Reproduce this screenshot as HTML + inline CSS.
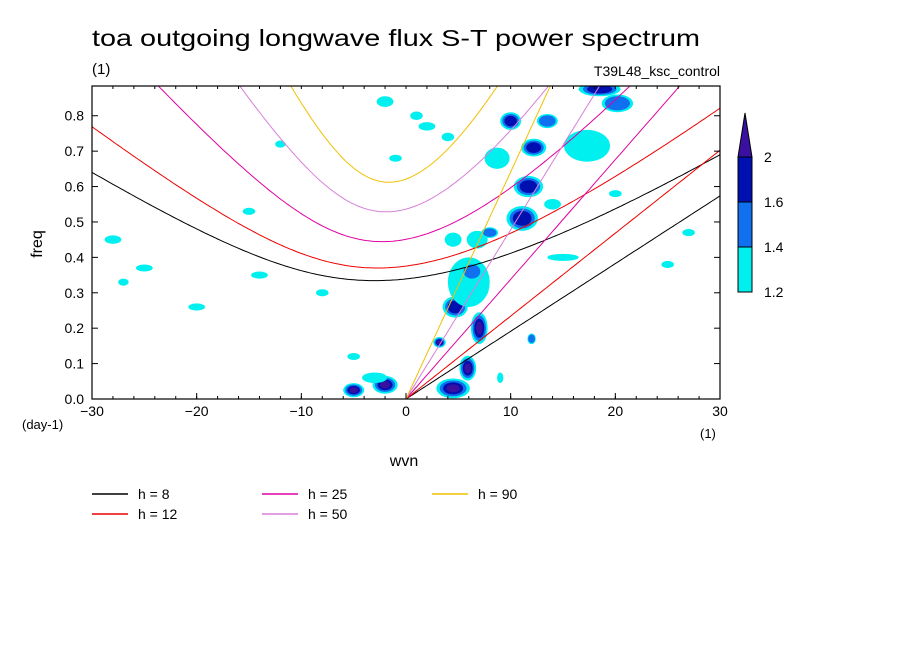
<!DOCTYPE html>
<html><head><meta charset="utf-8"><style>
body{margin:0;background:#fff;}
svg text{font-family:"Liberation Sans","DejaVu Sans",sans-serif;}
</style></head><body>
<svg id="c" width="904" height="654" xmlns="http://www.w3.org/2000/svg">
<text x="92" y="46" font-size="23" textLength="608" lengthAdjust="spacingAndGlyphs">toa outgoing longwave flux S-T power spectrum</text>
<text x="92" y="74" font-size="15">(1)</text>
<text x="720" y="76" font-size="14" text-anchor="end">T39L48_ksc_control</text>
<defs><clipPath id="pc"><rect x="92" y="86" width="628" height="313"/></clipPath></defs>
<g id="blobs" clip-path="url(#pc)"></g>
<g id="curves" clip-path="url(#pc)"></g>
<rect x="92" y="86" width="628" height="313" fill="none" stroke="#000" stroke-width="1.2"/>
<g id="axes"></g>
<text x="42" y="244" font-size="16" transform="rotate(-90 42 244)" text-anchor="middle">freq</text>
<text x="404" y="466" font-size="16" text-anchor="middle">wvn</text>
<text x="22" y="429" font-size="13">(day-1)</text>
<text x="700" y="438" font-size="13">(1)</text>
<g id="cbar"></g>
<g id="legend"></g>
</svg>
<script>
const NS="http://www.w3.org/2000/svg";
const depths=[8,12,25,50,90];
const depthColors=["#000000","#ee0000","#e000a0","#d880d8","#f0c000"];
const xTicks=[-30,-20,-10,0,10,20,30];
const yTicks=[0,0.1,0.2,0.3,0.4,0.5,0.6,0.7,0.8];
const levels=[1.2,1.4,1.6,2];
const levelColors=["#00f0f0","#1070f0","#0010b0","#3a10a0"];
// blobs: wavenumber, frequency, x-radius (wvn), y-radius (freq), max level index
const blobK=[-5,-2,4.5,5.9,7,3.2,4.7,7.1,6,6.3,11.1,11.7,12.2,10,13.5,17.3,18.5,20.2,12,6.8,8,4.5,8.7,-3,-14,-25,-28,-8,-2,4,1,14,-15,-20,20,27,25,-5,-27,-12,9,15,2,-1];
const blobF=[0.025,0.04,0.03,0.087,0.2,0.16,0.26,0.31,0.33,0.36,0.51,0.6,0.71,0.785,0.785,0.715,0.875,0.835,0.17,0.45,0.47,0.45,0.68,0.06,0.35,0.37,0.45,0.3,0.84,0.74,0.8,0.55,0.53,0.26,0.58,0.47,0.38,0.12,0.33,0.72,0.06,0.4,0.77,0.68];
const blobRx=[1,1.2,1.6,0.8,0.8,0.6,1.2,0.8,2,1,1.5,1.4,1.2,1,1,2.2,2,1.5,0.4,1,0.8,0.8,1.2,1.2,0.8,0.8,0.8,0.6,0.8,0.6,0.6,0.8,0.6,0.8,0.6,0.6,0.6,0.6,0.5,0.5,0.3,1.5,0.8,0.6];
const blobRy=[0.02,0.025,0.028,0.035,0.045,0.015,0.03,0.025,0.07,0.025,0.035,0.03,0.025,0.025,0.02,0.045,0.02,0.025,0.015,0.025,0.015,0.02,0.03,0.015,0.01,0.01,0.012,0.01,0.015,0.012,0.012,0.015,0.01,0.01,0.01,0.01,0.01,0.01,0.01,0.01,0.015,0.01,0.012,0.01];
const blobL=[3,3,3,3,3,3,2,3,0,1,2,2,2,2,1,0,2,1,1,0,1,0,0,0,0,0,0,0,0,0,0,0,0,0,0,0,0,0,0,0,0,0,0,0];
const X0=92,X1=720,Y0=399,Y1=86,KMIN=-30,KMAX=30,FMAX=0.884;
const xs=k=>X0+(k-KMIN)/(KMAX-KMIN)*(X1-X0);
const ys=f=>Y0-f/FMAX*(Y0-Y1);
function mk(t,a,p){const e=document.createElementNS(NS,t);for(const k in a)e.setAttribute(k,a[k]);(p||document.getElementById('c')).appendChild(e);return e;}
const bg=document.getElementById('blobs');
blobK.forEach((k,i)=>{
 for(let l=0;l<=blobL[i];l++){
  const s=1-l*0.2;
  const e=mk('ellipse',{cx:xs(blobK[i]),cy:ys(blobF[i]),rx:Math.abs(xs(blobRx[i]*s)-xs(0)),ry:Math.abs(ys(0)-ys(blobRy[i]*s)),fill:levelColors[l]},bg);
  
  
 }
});
const a=6.371e6,beta=2*7.292e-5/a,g=9.81;
function roots(k){
 const f=w=>w*w*w-(k*k+3)*w-k;
 function bis(lo,hi){let flo=f(lo);for(let i=0;i<80;i++){const m=(lo+hi)/2,fm=f(m);if((fm>0)==(flo>0)){lo=m;flo=fm;}else hi=m;}return (lo+hi)/2;}
 const s=Math.sqrt((k*k+3)/3);
 return {ig:bis(s,s+k*k+10), er:bis(-s,s)};
}
const cg=document.getElementById('curves');
depths.forEach((h,i)=>{
 const c=Math.sqrt(g*h),L=Math.sqrt(c/beta),T=1/Math.sqrt(beta*c);
 const toF=w=>w/T*86400/(2*Math.PI);
 let pk="",pi="",pe="";
 for(let s=-30;s<=30.001;s+=0.25){
  const kn=s/a*L;const r=roots(kn);
  pi+=(pi?"L":"M")+xs(s).toFixed(1)+","+ys(toF(r.ig)).toFixed(1);
  if(s<=0)pe+=(pe?"L":"M")+xs(s).toFixed(1)+","+ys(toF(-r.er)).toFixed(1);
  if(s>=0)pk+=(pk?"L":"M")+xs(s).toFixed(1)+","+ys(toF(kn)).toFixed(1);
 }
 [[pi,'ig-curve'],[pe,'er-curve'],[pk,'kelvin-curve']].forEach(([d,n])=>{
  const e=mk('path',{d:d,fill:'none',stroke:depthColors[i],'stroke-width':1},cg);
  
  
 });
});
const ag=document.getElementById('axes');
xTicks.forEach(t=>{
 mk('line',{x1:xs(t),x2:xs(t),y1:Y0,y2:Y0-6,stroke:'#000'},ag);
 const e=mk('text',{x:xs(t),y:416,'font-size':14,'text-anchor':'middle'},ag);e.textContent=t<0?'\u2212'+(-t):t;
 
 
});
for(let t=-30;t<=30;t+=2){mk('line',{x1:xs(t),x2:xs(t),y1:Y0,y2:Y0-3,stroke:'#000'},ag);mk('line',{x1:xs(t),x2:xs(t),y1:Y1,y2:Y1+3,stroke:'#000'},ag);}
yTicks.forEach(t=>{
 mk('line',{x1:X0,x2:X0+6,y1:ys(t),y2:ys(t),stroke:'#000'},ag);
 mk('line',{x1:X1,x2:X1-6,y1:ys(t),y2:ys(t),stroke:'#000'},ag);
 const e=mk('text',{x:84,y:ys(t)+5,'font-size':14,'text-anchor':'end'},ag);e.textContent=t.toFixed(1);
 
 
});
const cb=document.getElementById('cbar');
const cy=i=>292-i*45;
for(let i=0;i<3;i++){mk('rect',{x:738,y:cy(i+1),width:14,height:45,fill:levelColors[i],stroke:'#000'},cb);}
mk('polygon',{points:'738,157 752,157 745,113',fill:levelColors[3],stroke:'#000'},cb);
levels.forEach((v,i)=>{const e=mk('text',{x:764,y:cy(i)+5,'font-size':14},cb);e.textContent=v;
 
 });
const lg=document.getElementById('legend');
const lx=[92,92,262,262,432],ly=[494,514,494,514,494];
depths.forEach((h,i)=>{
 mk('line',{x1:lx[i],x2:lx[i]+36,y1:ly[i],y2:ly[i],stroke:depthColors[i],'stroke-width':1.5},lg);
 const e=mk('text',{x:lx[i]+46,y:ly[i]+5,'font-size':14,'xml:space':'preserve'},lg);
 e.textContent='h = '+(h<10?' ':'')+h;
 
 
});
</script>
</body></html>
